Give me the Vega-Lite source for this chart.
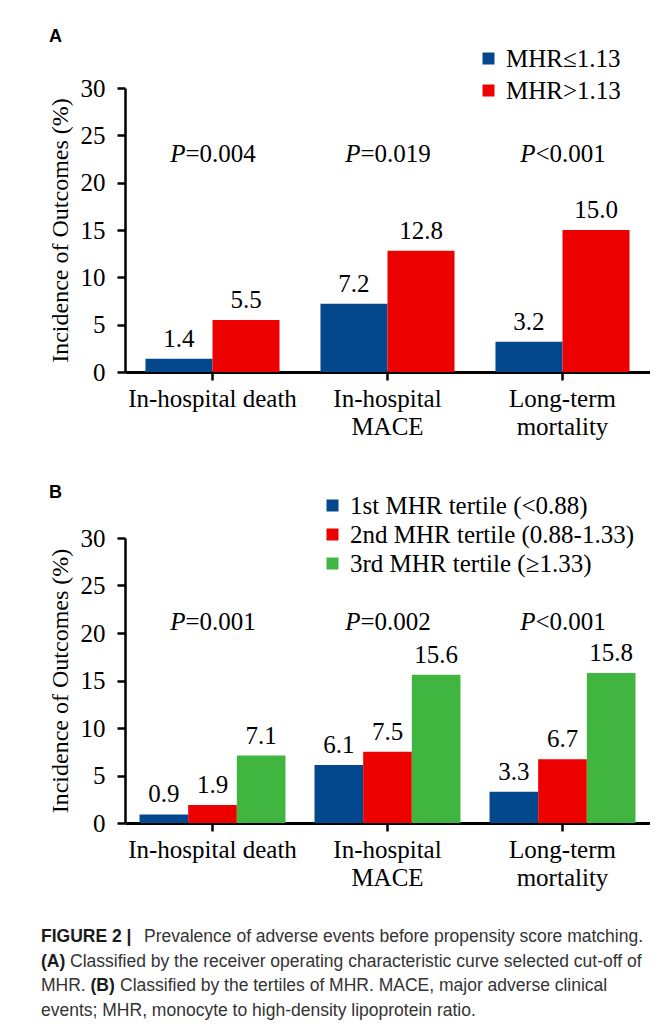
{
  "$schema": "https://vega.github.io/schema/vega-lite/v6.json",
  "background": "white",
  "padding": {"left": 41, "top": 28, "right": 0, "bottom": 0},
  "spacing": 38,
  "resolve": {"scale": {"color": "independent", "x": "independent", "xOffset": "independent", "y": "independent"}, "legend": {"color": "independent"}},
  "datasets": {
    "a": [
      {"outcome": "In-hospital death", "group": "MHR≤1.13", "value": 1.4},
      {"outcome": "In-hospital death", "group": "MHR>1.13", "value": 5.5},
      {"outcome": "In-hospital MACE", "group": "MHR≤1.13", "value": 7.2},
      {"outcome": "In-hospital MACE", "group": "MHR>1.13", "value": 12.8},
      {"outcome": "Long-term mortality", "group": "MHR≤1.13", "value": 3.2},
      {"outcome": "Long-term mortality", "group": "MHR>1.13", "value": 15.0}
    ],
    "pa": [
      {"outcome": "In-hospital death", "p": "=0.004"},
      {"outcome": "In-hospital MACE", "p": "=0.019"},
      {"outcome": "Long-term mortality", "p": "<0.001"}
    ],
    "b": [
      {"outcome": "In-hospital death", "group": "1st MHR tertile (<0.88)", "value": 0.9},
      {"outcome": "In-hospital death", "group": "2nd MHR tertile (0.88-1.33)", "value": 1.9},
      {"outcome": "In-hospital death", "group": "3rd MHR tertile (≥1.33)", "value": 7.1},
      {"outcome": "In-hospital MACE", "group": "1st MHR tertile (<0.88)", "value": 6.1},
      {"outcome": "In-hospital MACE", "group": "2nd MHR tertile (0.88-1.33)", "value": 7.5},
      {"outcome": "In-hospital MACE", "group": "3rd MHR tertile (≥1.33)", "value": 15.6},
      {"outcome": "Long-term mortality", "group": "1st MHR tertile (<0.88)", "value": 3.3},
      {"outcome": "Long-term mortality", "group": "2nd MHR tertile (0.88-1.33)", "value": 6.7},
      {"outcome": "Long-term mortality", "group": "3rd MHR tertile (≥1.33)", "value": 15.8}
    ],
    "pb": [
      {"outcome": "In-hospital death", "p": "=0.001"},
      {"outcome": "In-hospital MACE", "p": "=0.002"},
      {"outcome": "Long-term mortality", "p": "<0.001"}
    ],
    "cap": [
      {"line": 1, "part": "b1", "text": "FIGURE 2 |"},
      {"line": 1, "part": "r1", "text": "Prevalence of adverse events before propensity score matching."},
      {"line": 2, "part": "b2", "text": "(A)"},
      {"line": 2, "part": "r2", "text": "Classified by the receiver operating characteristic curve selected cut-off of"},
      {"line": 3, "part": "r3a", "text": "MHR."},
      {"line": 3, "part": "b3", "text": "(B)"},
      {"line": 3, "part": "r3b", "text": "Classified by the tertiles of MHR. MACE, major adverse clinical"},
      {"line": 4, "part": "r4", "text": "events; MHR, monocyte to high-density lipoprotein ratio."}
    ]
  },
  "vconcat": [
    {
      "width": 525,
      "height": 284,
      "title": {"text": "A", "anchor": "start", "frame": "bounds", "font": "Liberation Sans", "fontSize": 18, "fontWeight": "bold", "color": "black", "offset": 0, "dx": 1},
      "layer": [
        {
          "data": {"name": "a"},
          "mark": {"type": "bar"},
          "encoding": {
            "x": {"field": "outcome", "type": "nominal", "sort": ["In-hospital death", "In-hospital MACE", "Long-term mortality"], "scale": {"paddingInner": 0.234, "paddingOuter": 0.117}, "axis": {"title": " ", "titleFontSize": 7, "titlePadding": 0, "labelAngle": 0, "labelExpr": "datum.value == 'In-hospital death' ? datum.value : split(datum.value, ' ')", "labelLineHeight": 28, "labelBaseline": "top", "labelPadding": 6, "domainWidth": 3, "tickWidth": 2.5, "tickSize": 8}},
            "xOffset": {"field": "group", "sort": ["MHR≤1.13", "MHR>1.13"], "scale": {"paddingInner": 0, "paddingOuter": 0}},
            "y": {"field": "value", "type": "quantitative", "scale": {"domain": [0, 30], "nice": false}, "axis": {"title": "Incidence of Outcomes (%)", "values": [0, 5, 10, 15, 20, 25, 30], "labelPadding": 12, "titlePadding": 8, "domainWidth": 2.5, "tickWidth": 2.5, "tickSize": 8}},
            "color": {"field": "group", "type": "nominal", "sort": ["MHR≤1.13", "MHR>1.13"], "scale": {"domain": ["MHR≤1.13", "MHR>1.13"], "range": ["#03478d", "#ec0000"]}, "legend": {"title": null, "orient": "none", "legendX": 351, "legendY": -42, "symbolType": "square", "symbolSize": 144, "symbolStrokeWidth": 0, "labelFont": "Liberation Serif", "labelFontSize": 25, "labelColor": "black", "labelOffset": 5, "rowPadding": 6, "labelLimit": 400}}
          }
        },
        {
          "data": {"name": "a"},
          "mark": {"type": "text", "baseline": "middle", "dy": -20},
          "encoding": {
            "x": {"field": "outcome", "type": "nominal", "sort": ["In-hospital death", "In-hospital MACE", "Long-term mortality"]},
            "xOffset": {"field": "group", "sort": ["MHR≤1.13", "MHR>1.13"]},
            "y": {"field": "value", "type": "quantitative"},
            "text": {"field": "value", "type": "quantitative", "format": ".1f"}
          }
        },
        {
          "data": {"name": "pa"},
          "mark": {"type": "text", "align": "right", "baseline": "middle", "fontStyle": "italic", "dx": -27},
          "encoding": {
            "x": {"field": "outcome", "type": "nominal", "sort": ["In-hospital death", "In-hospital MACE", "Long-term mortality"]},
            "y": {"datum": 23.0},
            "text": {"value": "P"}
          }
        },
        {
          "data": {"name": "pa"},
          "mark": {"type": "text", "align": "left", "baseline": "middle", "dx": -27},
          "encoding": {
            "x": {"field": "outcome", "type": "nominal", "sort": ["In-hospital death", "In-hospital MACE", "Long-term mortality"]},
            "y": {"datum": 23.0},
            "text": {"field": "p"}
          }
        }
      ]
    },
    {
      "width": 525,
      "height": 285,
      "title": {"text": "B", "anchor": "start", "frame": "bounds", "font": "Liberation Sans", "fontSize": 18, "fontWeight": "bold", "color": "black", "offset": -9, "dx": 1},
      "layer": [
        {
          "data": {"name": "b"},
          "mark": {"type": "bar"},
          "encoding": {
            "x": {"field": "outcome", "type": "nominal", "sort": ["In-hospital death", "In-hospital MACE", "Long-term mortality"], "scale": {"paddingInner": 0.166, "paddingOuter": 0.083}, "axis": {"title": null, "labelAngle": 0, "labelExpr": "datum.value == 'In-hospital death' ? datum.value : split(datum.value, ' ')", "labelLineHeight": 28, "labelBaseline": "top", "labelPadding": 6, "domainWidth": 3, "tickWidth": 2.5, "tickSize": 8}},
            "xOffset": {"field": "group", "sort": ["1st MHR tertile (<0.88)", "2nd MHR tertile (0.88-1.33)", "3rd MHR tertile (≥1.33)"], "scale": {"paddingInner": 0, "paddingOuter": 0}},
            "y": {"field": "value", "type": "quantitative", "scale": {"domain": [0, 30], "nice": false}, "axis": {"title": "Incidence of Outcomes (%)", "values": [0, 5, 10, 15, 20, 25, 30], "labelPadding": 12, "titlePadding": 8, "domainWidth": 2.5, "tickWidth": 2.5, "tickSize": 8}},
            "color": {"field": "group", "type": "nominal", "sort": ["1st MHR tertile (<0.88)", "2nd MHR tertile (0.88-1.33)", "3rd MHR tertile (≥1.33)"], "scale": {"domain": ["1st MHR tertile (<0.88)", "2nd MHR tertile (0.88-1.33)", "3rd MHR tertile (≥1.33)"], "range": ["#03478d", "#ec0000", "#40b640"]}, "legend": {"title": null, "orient": "none", "legendX": 195, "legendY": -45, "symbolType": "square", "symbolSize": 144, "symbolStrokeWidth": 0, "labelFont": "Liberation Serif", "labelFontSize": 25, "labelColor": "black", "labelOffset": 5, "rowPadding": 3, "labelLimit": 400}}
          }
        },
        {
          "data": {"name": "b"},
          "mark": {"type": "text", "baseline": "middle", "dy": -20},
          "encoding": {
            "x": {"field": "outcome", "type": "nominal", "sort": ["In-hospital death", "In-hospital MACE", "Long-term mortality"]},
            "xOffset": {"field": "group", "sort": ["1st MHR tertile (<0.88)", "2nd MHR tertile (0.88-1.33)", "3rd MHR tertile (≥1.33)"]},
            "y": {"field": "value", "type": "quantitative"},
            "text": {"field": "value", "type": "quantitative", "format": ".1f"}
          }
        },
        {
          "data": {"name": "pb"},
          "mark": {"type": "text", "align": "right", "baseline": "middle", "fontStyle": "italic", "dx": -27},
          "encoding": {
            "x": {"field": "outcome", "type": "nominal", "sort": ["In-hospital death", "In-hospital MACE", "Long-term mortality"]},
            "y": {"datum": 21.2},
            "text": {"value": "P"}
          }
        },
        {
          "data": {"name": "pb"},
          "mark": {"type": "text", "align": "left", "baseline": "middle", "dx": -27},
          "encoding": {
            "x": {"field": "outcome", "type": "nominal", "sort": ["In-hospital death", "In-hospital MACE", "Long-term mortality"]},
            "y": {"datum": 21.2},
            "text": {"field": "p"}
          }
        }
      ]
    },
    {
      "width": 520,
      "height": 74,
      "data": {"name": "cap"},
      "encoding": {
        "y": {"field": "line", "type": "ordinal", "axis": null, "scale": {"type": "point", "padding": 0}},
        "x": {"value": 0}
      },
      "layer": [
        {"transform": [{"filter": "datum.part == 'b1' || datum.part == 'b2'"}], "mark": {"type": "text", "align": "left", "baseline": "middle", "font": "Liberation Sans", "fontSize": 17.5, "fontWeight": "bold", "color": "#1a1a1a", "dx": -84}, "encoding": {"text": {"field": "text"}}},
        {"transform": [{"filter": "datum.part == 'r1'"}], "mark": {"type": "text", "align": "left", "baseline": "middle", "font": "Liberation Sans", "fontSize": 17.5, "color": "#333333", "dx": 19}, "encoding": {"text": {"field": "text"}}},
        {"transform": [{"filter": "datum.part == 'r2'"}], "mark": {"type": "text", "align": "left", "baseline": "middle", "font": "Liberation Sans", "fontSize": 17.5, "color": "#333333", "dx": -55}, "encoding": {"text": {"field": "text"}}},
        {"transform": [{"filter": "datum.part == 'r3a' || datum.part == 'r4'"}], "mark": {"type": "text", "align": "left", "baseline": "middle", "font": "Liberation Sans", "fontSize": 17.5, "color": "#333333", "dx": -84}, "encoding": {"text": {"field": "text"}}},
        {"transform": [{"filter": "datum.part == 'b3'"}], "mark": {"type": "text", "align": "left", "baseline": "middle", "font": "Liberation Sans", "fontSize": 17.5, "fontWeight": "bold", "color": "#1a1a1a", "dx": -34.5}, "encoding": {"text": {"field": "text"}}},
        {"transform": [{"filter": "datum.part == 'r3b'"}], "mark": {"type": "text", "align": "left", "baseline": "middle", "font": "Liberation Sans", "fontSize": 17.5, "color": "#333333", "dx": -5}, "encoding": {"text": {"field": "text"}}}
      ]
    }
  ],
  "config": {
    "view": {"stroke": null},
    "font": "Liberation Serif",
    "text": {"font": "Liberation Serif", "fontSize": 25, "color": "black"},
    "axis": {"labelFont": "Liberation Serif", "labelFontSize": 25, "labelColor": "black", "titleFont": "Liberation Serif", "titleFontSize": 24, "titleFontWeight": "normal", "titleColor": "black", "domainColor": "black", "tickColor": "black", "grid": false}
  }
}
